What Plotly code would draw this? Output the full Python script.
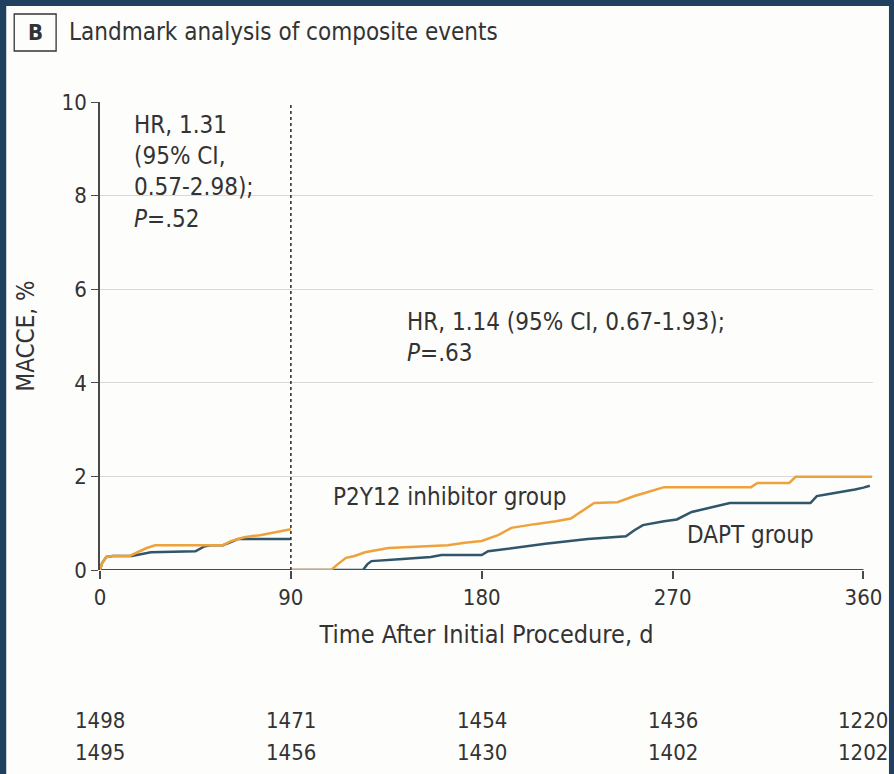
import plotly.graph_objects as go

# Kaplan-Meier style cumulative MACCE (%), landmark at day 90
p2y12_early_days = [0, 1, 3, 6, 14, 18, 22, 26, 45, 50, 58, 62, 65, 68, 76, 82, 88, 90]
p2y12_early_pct = [0, 0.15, 0.28, 0.30, 0.30, 0.38, 0.47, 0.53, 0.53, 0.53, 0.53, 0.62, 0.66, 0.70, 0.75, 0.80, 0.86, 0.87]
dapt_early_days = [0, 1, 3, 6, 15, 20, 24, 45, 49, 52, 58, 62, 65, 90]
dapt_early_pct = [0, 0.15, 0.28, 0.30, 0.30, 0.35, 0.38, 0.40, 0.50, 0.53, 0.53, 0.60, 0.66, 0.66]

p2y12_late_days = [90, 109, 112, 116, 120, 125, 136, 150, 164, 172, 180, 188, 194, 205, 215, 222,
                   228, 233, 244, 252, 258, 266, 307, 310, 325, 328, 364]
p2y12_late_pct = [0, 0, 0.12, 0.26, 0.30, 0.38, 0.47, 0.50, 0.53, 0.58, 0.62, 0.75, 0.90, 0.98, 1.04, 1.10,
                  1.28, 1.43, 1.45, 1.58, 1.66, 1.77, 1.77, 1.86, 1.86, 1.99, 1.99]
dapt_late_days = [90, 124, 126, 128, 141, 156, 161, 180, 183, 195, 210, 230, 248, 252, 256, 266, 272,
                  279, 290, 297, 335, 338, 343, 350, 356, 360, 363]
dapt_late_pct = [0, 0, 0.12, 0.19, 0.23, 0.28, 0.32, 0.32, 0.40, 0.47, 0.56, 0.66, 0.72, 0.85, 0.96, 1.04, 1.08,
                 1.24, 1.35, 1.43, 1.43, 1.58, 1.62, 1.67, 1.72, 1.76, 1.80]

x_ticks = [0, 90, 180, 270, 360]
y_ticks = [0, 2, 4, 6, 8, 10]
landmark_day = 90

at_risk_p2y12 = ["1498", "1471", "1454", "1436", "1220"]
at_risk_dapt = ["1495", "1456", "1430", "1402", "1202"]

ORANGE = "#EDA23C"
TEAL = "#2F566B"
INK = "#333333"
NAVY = "#21405F"
PANEL = "#FDFDFB"
FONT = "Liberation Sans Narrow, DejaVu Sans Condensed, Arial Narrow, sans-serif"

fig = go.Figure()
for xs, ys, col in [
    (dapt_early_days, dapt_early_pct, TEAL),
    (p2y12_early_days, p2y12_early_pct, ORANGE),
    (dapt_late_days, dapt_late_pct, TEAL),
    (p2y12_late_days, p2y12_late_pct, ORANGE),
]:
    fig.add_trace(go.Scatter(x=xs, y=ys, mode="lines", line=dict(color=col, width=2.5),
                             showlegend=False, hoverinfo="skip"))

W, H = 894, 774
ML, MR, MT, MB = 100, 19, 102, 204
pw, ph = W - ML - MR, H - MT - MB


def px_x(p):
    return (p - ML) / pw


def px_y(p):
    return (H - MB - p) / ph


shapes = [
    # light panel inside the navy frame
    dict(type="rect", xref="paper", yref="paper", layer="below",
         x0=px_x(6), x1=px_x(891), y0=px_y(H + 10), y1=px_y(6),
         fillcolor=PANEL, line=dict(width=0)),
    # "B" panel box
    dict(type="rect", xref="paper", yref="paper",
         x0=px_x(14), x1=px_x(56), y0=px_y(51), y1=px_y(14),
         line=dict(color=INK, width=1.3), fillcolor="rgba(0,0,0,0)"),
    # landmark divider
    dict(type="line", xref="x", yref="y", x0=landmark_day, x1=landmark_day, y0=0, y1=y_ticks[-1],
         line=dict(color=INK, width=1.6, dash="dot")),
    # x axis baseline through the last tick
    dict(type="line", xref="x", yref="y", x0=x_ticks[0], x1=x_ticks[-1], y0=0, y1=0,
         line=dict(color="#4a4a4a", width=2.2), layer="below"),
]

ann = []
ann.append(dict(xref="paper", yref="paper", x=px_x(35), y=px_y(32), text="<b>B</b>", showarrow=False,
                font=dict(family=FONT, size=22, color=INK), xanchor="center", yanchor="middle"))
ann.append(dict(xref="paper", yref="paper", x=px_x(67), y=px_y(32),
                text="Landmark analysis of composite events", showarrow=False,
                font=dict(family=FONT, size=24, color=INK), xanchor="left", yanchor="middle"))
ann.append(dict(xref="x", yref="y", x=15, y=9.85, xanchor="left", yanchor="top", align="left",
                text="HR, 1.31<br>(95% CI,<br>0.57-2.98);<br><i>P</i>=.52", showarrow=False,
                font=dict(family=FONT, size=24, color=INK)))
ann.append(dict(xref="x", yref="y", x=144, y=5.65, xanchor="left", yanchor="top", align="left",
                text="HR, 1.14 (95% CI, 0.67-1.93);<br><i>P</i>=.63", showarrow=False,
                font=dict(family=FONT, size=24, color=INK)))
ann.append(dict(xref="x", yref="y", x=109, y=1.55, xanchor="left", yanchor="middle",
                text="P2Y12 inhibitor group", showarrow=False,
                font=dict(family=FONT, size=24, color=INK)))
ann.append(dict(xref="x", yref="y", x=276, y=0.75, xanchor="left", yanchor="middle",
                text="DAPT group", showarrow=False,
                font=dict(family=FONT, size=24, color=INK)))
for i, t in enumerate(x_ticks):
    for row_vals, py in [(at_risk_p2y12, 720), (at_risk_dapt, 752)]:
        ann.append(dict(xref="x", yref="paper", x=t, y=px_y(py), text=row_vals[i], showarrow=False,
                        xanchor="center", yanchor="middle",
                        font=dict(family=FONT, size=22, color=INK)))

fig.update_layout(
    width=W, height=H,
    margin=dict(l=ML, r=MR, t=MT, b=MB, pad=0),
    paper_bgcolor=NAVY, plot_bgcolor="rgba(0,0,0,0)",
    shapes=shapes, annotations=ann,
    font=dict(family=FONT, color=INK),
    xaxis=dict(range=[0, 364.5], tickvals=x_ticks, ticks="outside", ticklen=8, tickwidth=1.6,
               tickcolor="#4a4a4a", showline=False, showgrid=False, zeroline=False,
               tickfont=dict(family=FONT, size=22, color=INK),
               title=dict(text="Time After Initial Procedure, d", standoff=16,
                          font=dict(family=FONT, size=25, color=INK))),
    yaxis=dict(range=[0, 10], tickvals=y_ticks, ticks="outside", ticklen=7, tickwidth=1.4,
               tickcolor="#4a4a4a", showline=True, linecolor="#4a4a4a", linewidth=1.6,
               showgrid=True, gridcolor="#d9d9d9", gridwidth=1.2, zeroline=False,
               tickfont=dict(family=FONT, size=22, color=INK),
               title=dict(text="MACCE, %", standoff=20,
                          font=dict(family=FONT, size=24, color=INK))),
)

fig.write_html("out.html")
